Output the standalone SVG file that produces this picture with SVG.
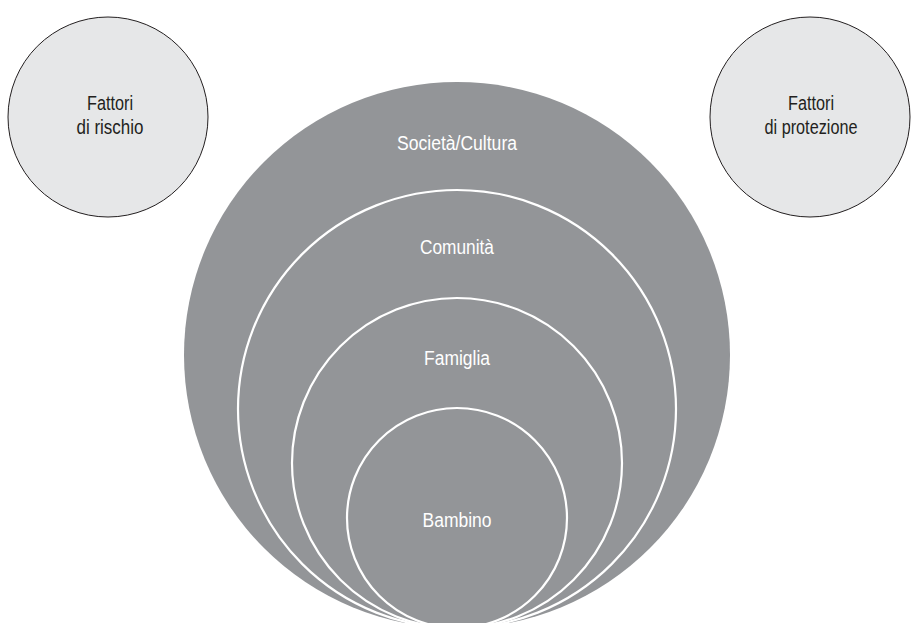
<svg xmlns="http://www.w3.org/2000/svg" width="911" height="623" viewBox="0 0 911 623">
<style>
.side{fill:#e6e7e8;stroke:#231f20;stroke-width:1}
.ring{fill:#939598;stroke:#ffffff;stroke-width:2.2}
.t{font-family:"Liberation Sans Narrow","Liberation Sans",Arial,sans-serif;font-size:20px;text-anchor:middle}
.dark{fill:#231f20}
.light{fill:#ffffff}
</style>
<rect width="911" height="623" fill="#ffffff"/>
<g id="rischio">
<circle class="side" cx="108" cy="117" r="100"/>
<text class="t dark" x="110" y="110" textLength="46" lengthAdjust="spacingAndGlyphs">Fattori</text>
<text class="t dark" x="110" y="134" textLength="67" lengthAdjust="spacingAndGlyphs">di rischio</text>
</g>
<g id="protezione">
<circle class="side" cx="810" cy="117" r="100"/>
<text class="t dark" x="811" y="110" textLength="46" lengthAdjust="spacingAndGlyphs">Fattori</text>
<text class="t dark" x="811" y="134" textLength="93" lengthAdjust="spacingAndGlyphs">di protezione</text>
</g>
<g id="societa">
<circle cx="457" cy="355" r="273" fill="#939598"/>
<text class="t light" x="457" y="150" textLength="120" lengthAdjust="spacingAndGlyphs">Società/Cultura</text>
</g>
<g id="comunita">
<circle class="ring" cx="457" cy="409" r="219"/>
<text class="t light" x="457" y="254" textLength="74" lengthAdjust="spacingAndGlyphs">Comunità</text>
</g>
<g id="famiglia">
<circle class="ring" cx="457" cy="463" r="165"/>
<text class="t light" x="457" y="365" textLength="66" lengthAdjust="spacingAndGlyphs">Famiglia</text>
</g>
<g id="bambino">
<circle class="ring" cx="457" cy="518" r="110"/>
<text class="t light" x="457" y="527" textLength="69" lengthAdjust="spacingAndGlyphs">Bambino</text>
</g>
<g id="connectors"></g>
</svg>
